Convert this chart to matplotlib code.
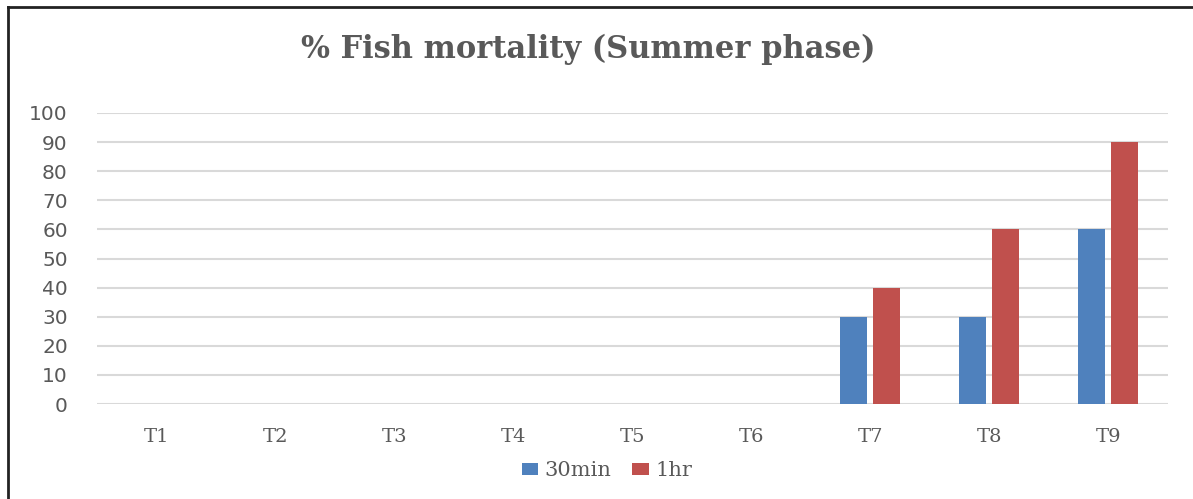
import matplotlib
matplotlib.use("Agg")
import matplotlib.pyplot as plt
import numpy as np
from matplotlib.lines import Line2D

categories = ["T1", "T2", "T3", "T4", "T5", "T6", "T7", "T8", "T9"]
series_30min = [0, 0, 0, 0, 0, 0, 30, 30, 60]
series_1hr = [0, 0, 0, 0, 0, 0, 40, 60, 90]
series_names = ["30min", "1hr"]
yticks = [0, 10, 20, 30, 40, 50, 60, 70, 80, 90, 100]
title = "% Fish mortality (Summer phase)"

W, H = 1193, 499
fig = plt.figure(figsize=(W / 100, H / 100), dpi=100)
fig.patch.set_facecolor("white")

ax = fig.add_axes([97 / W, (H - 404) / H, (1168 - 97) / W, (404 - 113) / H])
x = np.arange(len(categories))
bw = 0.23
ax.bar(x - 0.145, series_30min, width=bw, color="#4F81BD", label=series_names[0], zorder=3)
ax.bar(x + 0.135, series_1hr, width=bw, color="#C0504D", label=series_names[1], zorder=3)

ax.set_xlim(-0.5, len(categories) - 0.5)
ax.set_ylim(0, 100)
ax.set_yticks(yticks)
ax.set_yticklabels([str(v) for v in yticks], fontsize=14.5, color="#595959", family="DejaVu Sans")
ax.set_xticks(x)
ax.set_xticklabels(categories, fontsize=14, color="#595959", family="DejaVu Serif")
ax.tick_params(axis="both", length=0)
ax.tick_params(axis="y", pad=21)
ax.tick_params(axis="x", pad=17)
ax.grid(axis="y", color="#D9D9D9", linewidth=1.5, zorder=0)
for s in ax.spines.values():
    s.set_visible(False)

fig.text(588 / W, 1 - 49 / H, title, ha="center", va="center", fontsize=22,
         fontweight="bold", family="DejaVu Serif", color="#595959")

leg = fig.legend(loc="center", bbox_to_anchor=(607 / W, 1 - 471 / H), ncol=2,
                 frameon=False, prop={"family": "DejaVu Serif", "size": 15},
                 handlelength=0.8, handleheight=0.5, handletextpad=0.3, columnspacing=1.0)
for t in leg.get_texts():
    t.set_color("#595959")

# chart border (top and left visible)
fig.add_artist(Line2D([8 / W, 8 / W], [0, 1 - 7 / H], transform=fig.transFigure, color="#222222", linewidth=2))
fig.add_artist(Line2D([8 / W, 1], [1 - 7 / H, 1 - 7 / H], transform=fig.transFigure, color="#222222", linewidth=2))

fig.savefig("out.png", dpi=100)
